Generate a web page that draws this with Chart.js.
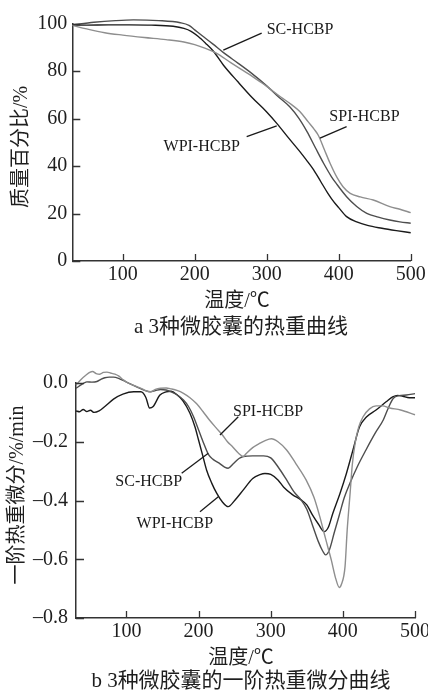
<!DOCTYPE html>
<html>
<head>
<meta charset="utf-8">
<script src="https://cdn.jsdelivr.net/npm/chart.js@4.4.1/dist/chart.umd.min.js"></script>
<style>
    html, body { margin: 0; padding: 0; background: #fff; width: 428px; height: 690px; overflow: hidden; }
    body { position: relative; font-family: "Liberation Serif", "Noto Sans CJK SC", serif; color: #1e1e1e; }
    .box { position: absolute; left: 0; width: 428px; }
    .txt { position: absolute; white-space: nowrap; line-height: 1; transform: translate(-50%, -50%); }
    .ytitle { transform: translate(-50%, -50%) rotate(-90deg); }
</style>
</head>
<body>
<div class="box" style="top:0;height:290px"><canvas id="tga-chart"></canvas></div>
<div class="box" style="top:350px;height:300px"><canvas id="dtg-chart"></canvas></div>

<div class="txt ytitle" style="left:20px;top:147px;font-size:20px">质量百分比/%</div>
<div class="txt" style="left:237px;top:300px;font-size:20px">温度/℃</div>
<div class="txt" style="left:241px;top:326px;font-size:21px">a 3种微胶囊的热重曲线</div>

<div class="txt ytitle" style="left:16px;top:495px;font-size:20px">一阶热重微分/%/min</div>
<div class="txt" style="left:241px;top:657px;font-size:20px">温度/℃</div>
<div class="txt" style="left:241px;top:680px;font-size:21px">b 3种微胶囊的一阶热重微分曲线</div>

<script>
// ---- a: TG curves (mass %) ----
const tgTempWPI = [30, 50, 80, 110, 140, 170, 185, 195, 205, 215, 226, 240, 260, 280, 300, 314, 330, 345, 355, 365, 375, 385, 393, 400, 411, 425, 440, 460, 480, 500];
const tgMassWPI = [99.5, 99.4, 99.5, 99.5, 99.4, 98.9, 98.0, 96.8, 94.6, 91.8, 88.4, 82.5, 75.5, 68.8, 62.8, 58.0, 52.0, 46.5, 42.6, 38.5, 33.5, 28.5, 25.0, 22.5, 18.7, 16.5, 15.0, 13.8, 12.8, 11.9];

const tgTempSC = [30, 60, 90, 115, 150, 180, 192, 200, 210, 225, 240, 260, 277, 300, 315, 332, 345, 356, 368, 379, 390, 397, 411, 425, 439, 455, 471, 485, 500];
const tgMassSC = [99.5, 100.6, 101.3, 101.6, 101.3, 100.4, 99.3, 97.4, 95.0, 91.5, 87.8, 83.4, 79.6, 73.8, 69.5, 65.0, 60.0, 54.5, 47.5, 41.2, 35.5, 32.5, 27.1, 23.0, 20.1, 18.5, 17.3, 16.5, 15.9];

const tgTempSPI = [30, 50, 75, 100, 130, 160, 185, 200, 215, 230, 250, 277, 290, 300, 320, 335, 346, 358, 366, 372, 380, 388, 398, 406, 416, 430, 448, 471, 485, 500];
const tgMassSPI = [99.3, 97.8, 96.2, 95.2, 94.2, 93.3, 92.3, 91.2, 89.6, 87.6, 83.6, 78.4, 75.7, 73.6, 69.0, 65.8, 63.0, 58.5, 55.5, 52.8, 47.0, 41.2, 35.0, 31.3, 28.5, 27.0, 25.7, 22.9, 21.8, 20.4];

const tgTempTicks = [100, 200, 300, 400, 500];
const tgMassTicks = [0, 20, 40, 60, 80, 100];

// ---- b: DTG curves (%/min) ----
const dtgTempWPI = [30, 35, 40, 45, 50, 55, 62, 70, 82, 95, 110, 120, 127, 132, 137, 146, 155, 162, 170, 178, 188, 195, 200, 206, 211, 218, 225, 233, 241, 250, 262, 275, 285, 292, 300, 310, 318, 330, 342, 350, 358, 366, 374, 380, 386, 396, 405, 414, 423, 433, 446, 460, 469, 476, 483, 492, 500];
const dtgRateWPI = [-0.095, -0.098, -0.090, -0.097, -0.093, -0.100, -0.095, -0.080, -0.055, -0.038, -0.030, -0.030, -0.050, -0.085, -0.080, -0.042, -0.030, -0.028, -0.040, -0.060, -0.103, -0.150, -0.195, -0.250, -0.296, -0.340, -0.375, -0.405, -0.421, -0.400, -0.364, -0.325, -0.312, -0.308, -0.311, -0.330, -0.355, -0.380, -0.398, -0.415, -0.450, -0.480, -0.506, -0.490, -0.444, -0.376, -0.307, -0.228, -0.150, -0.115, -0.092, -0.064, -0.047, -0.042, -0.045, -0.050, -0.050];

const dtgTempSC = [30, 38, 45, 52, 59, 65, 70, 76, 82, 89, 100, 114, 125, 133, 140, 147, 155, 162, 170, 179, 186, 193, 200, 207, 214, 220, 228, 236, 241, 248, 256, 262, 275, 290, 300, 310, 322, 332, 342, 350, 358, 366, 372, 376, 381, 388, 395, 402, 410, 420, 432, 445, 456, 463, 470, 478, 488, 500];
const dtgRateSC = [-0.018, -0.005, 0.004, 0.003, 0.005, 0.013, 0.018, 0.020, 0.020, 0.016, 0.003, -0.013, -0.025, -0.030, -0.026, -0.022, -0.024, -0.030, -0.040, -0.058, -0.080, -0.115, -0.160, -0.205, -0.245, -0.260, -0.272, -0.286, -0.290, -0.275, -0.257, -0.250, -0.248, -0.248, -0.255, -0.285, -0.330, -0.370, -0.398, -0.430, -0.485, -0.540, -0.572, -0.585, -0.570, -0.510, -0.450, -0.390, -0.340, -0.285, -0.228, -0.170, -0.126, -0.085, -0.052, -0.043, -0.041, -0.036];

const dtgTempSPI = [30, 37, 44, 49, 53, 58, 63, 68, 73, 78, 84, 89, 95, 102, 110, 118, 125, 133, 140, 147, 155, 162, 170, 179, 188, 197, 206, 215, 224, 233, 240, 247, 255, 262, 266, 275, 285, 293, 301, 310, 322, 335, 349, 360, 368, 376, 384, 390, 395, 398, 403, 406, 410, 413, 417, 422, 428, 437, 446, 455, 465, 480, 500];
const dtgRateSPI = [-0.007, 0.012, 0.027, 0.036, 0.039, 0.032, 0.030, 0.036, 0.037, 0.034, 0.030, 0.024, 0.012, 0.000, -0.008, -0.016, -0.024, -0.030, -0.022, -0.018, -0.017, -0.020, -0.025, -0.035, -0.050, -0.070, -0.097, -0.126, -0.152, -0.177, -0.200, -0.217, -0.238, -0.250, -0.240, -0.220, -0.205, -0.195, -0.190, -0.200, -0.228, -0.275, -0.330, -0.390, -0.455, -0.530, -0.603, -0.665, -0.696, -0.685, -0.625, -0.500, -0.376, -0.280, -0.205, -0.150, -0.115, -0.088, -0.078, -0.078, -0.085, -0.092, -0.108];

const dtgTempTicks = [100, 200, 300, 400, 500];
const dtgRateTicks = [-0.8, -0.6, -0.4, -0.2, 0];
const dtgRateLabels = ["\u20130.8", "\u20130.6", "\u20130.4", "\u20130.2", "0.0"];

const seriesNames = ["WPI-HCBP", "SC-HCBP", "SPI-HCBP"];
const seriesColors = ["#1a1a1a", "#4d4d4d", "#8e8e8e"];

const tickFont = { family: "Liberation Serif", size: 20 };
const axisColor = "#333333";

const toPoints = (xs, ys) => xs.map((x, i) => ({ x, y: ys[i] }));

const makeDataset = (idx, xs, ys) => ({
    label: seriesNames[idx],
    data: toPoints(xs, ys),
    borderColor: seriesColors[idx],
    borderWidth: 1.4,
    pointRadius: 0,
    cubicInterpolationMode: "monotone",
    clip: false
});

// inward tick marks, leader lines and curve names (anchored in data units)
const leaderPlugin = {
    id: "leaders",
    afterDatasetsDraw(chart, args, opts) {
        const { ctx, chartArea } = chart;
        const x = chart.scales.x;
        const y = chart.scales.y;
        ctx.save();

        ctx.strokeStyle = axisColor;
        ctx.lineWidth = 1.3;
        ctx.beginPath();
        x.ticks.forEach((t) => {
            const px = Math.round(x.getPixelForValue(t.value)) + 0.5;
            ctx.moveTo(px, chartArea.bottom);
            ctx.lineTo(px, chartArea.bottom - 7);
        });
        y.ticks.forEach((t) => {
            const py = Math.round(y.getPixelForValue(t.value)) + 0.5;
            ctx.moveTo(chartArea.left, py);
            ctx.lineTo(chartArea.left + 8, py);
        });
        ctx.stroke();

        ctx.strokeStyle = "#1a1a1a";
        ctx.fillStyle = "#1a1a1a";
        ctx.font = "16px 'Liberation Serif'";
        ctx.textBaseline = "middle";
        (opts.items || []).forEach((item) => {
            ctx.beginPath();
            ctx.moveTo(x.getPixelForValue(item.from[0]), y.getPixelForValue(item.from[1]));
            ctx.lineTo(x.getPixelForValue(item.to[0]), y.getPixelForValue(item.to[1]));
            ctx.stroke();
            ctx.textAlign = item.align;
            ctx.fillText(item.text, x.getPixelForValue(item.at[0]), y.getPixelForValue(item.at[1]));
        });
        ctx.restore();
    }
};

const xAxis = (ticks, height) => ({
    type: "linear",
    min: 30,
    max: 500,
    afterBuildTicks: (s) => { s.ticks = ticks.map((v) => ({ value: v })); },
    afterFit: (s) => { s.height = height; s.paddingLeft = 0; s.paddingRight = 0; },
    border: { color: axisColor, width: 1.5 },
    grid: { display: false, drawTicks: true, tickLength: -7 },
    ticks: { padding: 9, color: "#1e1e1e", font: tickFont, maxRotation: 0, autoSkip: false }
});

const yAxis = (min, max, ticks, width, padding, labels) => ({
    type: "linear",
    min,
    max,
    afterBuildTicks: (s) => { s.ticks = ticks.map((v) => ({ value: v })); },
    afterFit: (s) => { s.width = width; s.paddingTop = 0; s.paddingBottom = 0; },
    border: { color: axisColor, width: 1.5 },
    grid: { display: false, drawTicks: true, tickLength: -8 },
    ticks: {
        padding,
        color: "#1e1e1e",
        font: tickFont,
        autoSkip: false,
        callback: (v, i) => (labels ? labels[i] : String(v))
    }
});

const baseOptions = (padding, scales, items) => ({
    responsive: true,
    maintainAspectRatio: false,
    animation: false,
    layout: { padding },
    plugins: { legend: { display: false }, tooltip: { enabled: false }, leaders: { items } },
    scales
});

new Chart(document.getElementById("tga-chart"), {
    type: "line",
    data: {
        datasets: [
            makeDataset(2, tgTempSPI, tgMassSPI),
            makeDataset(1, tgTempSC, tgMassSC),
            makeDataset(0, tgTempWPI, tgMassWPI)
        ]
    },
    options: baseOptions(
        { top: 23.7, right: 17.3, left: 0, bottom: 0 },
        { x: xAxis(tgTempTicks, 29), y: yAxis(0, 100, tgMassTicks, 72.3, 13) },
        [
            { text: "SC-HCBP", align: "left", at: [300, 97.3], from: [293, 96], to: [239.7, 88.9] },
            { text: "SPI-HCBP", align: "left", at: [387, 60.8], from: [411, 56.6], to: [374, 51.8] },
            { text: "WPI-HCBP", align: "right", at: [262.9, 48.2], from: [272.2, 52.4], to: [313.9, 56.9] }
        ]
    ),
    plugins: [leaderPlugin]
});

new Chart(document.getElementById("dtg-chart"), {
    type: "line",
    data: {
        datasets: [
            makeDataset(2, dtgTempSPI, dtgRateSPI),
            makeDataset(1, dtgTempSC, dtgRateSC),
            makeDataset(0, dtgTempWPI, dtgRateWPI)
        ]
    },
    options: baseOptions(
        { top: 33, right: 13, left: 0, bottom: 0 },
        { x: xAxis(dtgTempTicks, 32), y: yAxis(-0.8, 0, dtgRateTicks, 76, 16, dtgRateLabels) },
        [
            { text: "SPI-HCBP", align: "left", at: [247.7, -0.098], from: [255, -0.115], to: [229.6, -0.177] },
            { text: "SC-HCBP", align: "right", at: [177, -0.336], from: [176.5, -0.307], to: [213.4, -0.239] },
            { text: "WPI-HCBP", align: "right", at: [220, -0.478], from: [201.9, -0.438], to: [227.3, -0.387] }
        ]
    ),
    plugins: [leaderPlugin]
});
</script>
</body>
</html>
